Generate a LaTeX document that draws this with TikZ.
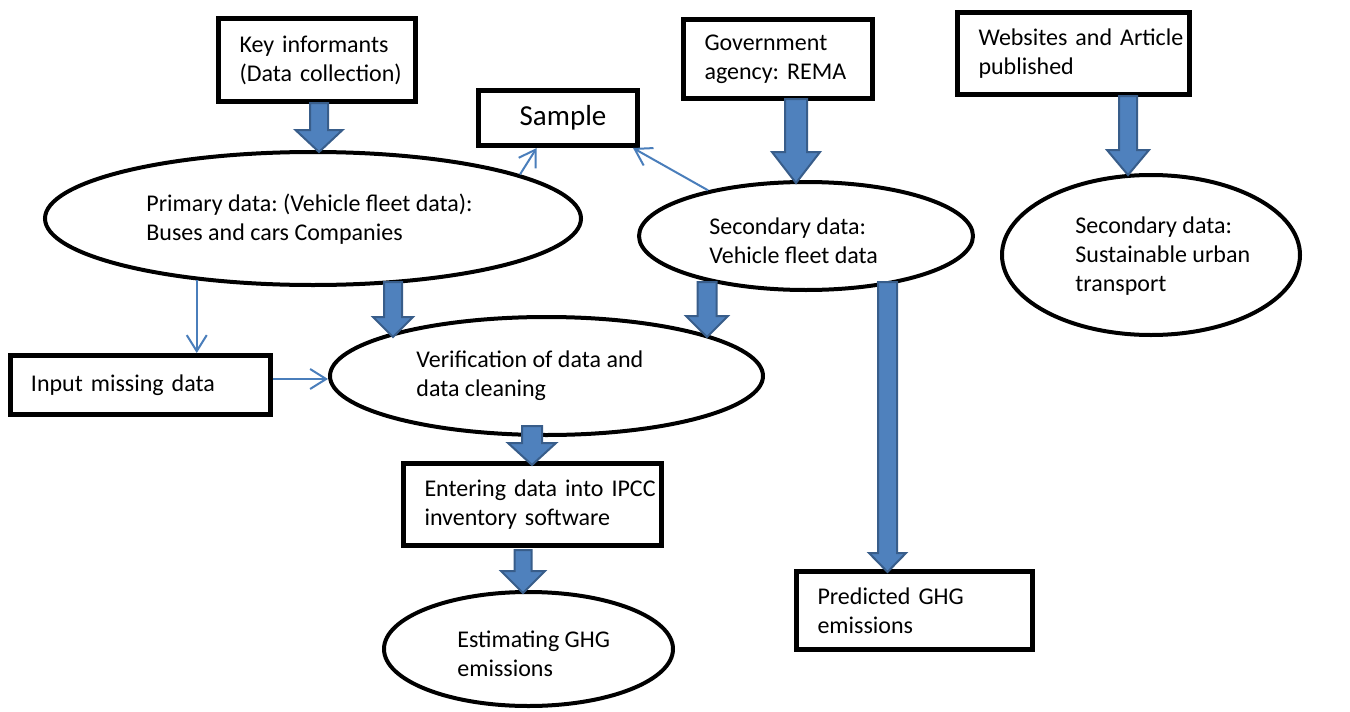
\documentclass[tikz,border=0pt]{standalone}
\usepackage{fontspec}
\setmainfont{Carlito}
\usetikzlibrary{shapes.geometric,arrows.meta,calc}
\definecolor{ablue}{HTML}{4A7EBB}
\definecolor{bfill}{HTML}{4F81BD}
\definecolor{bdraw}{HTML}{385D8A}
\newcommand\blockarrow[5]{\path[barr] let \p1=(#1), \p2=(#2) in
  (\x1-#3,\y1) -- (\x1+#3,\y1) -- (\x1+#3,\y2+#5) -- (\x1+#4,\y2+#5) -- (\x1,\y2)
  -- (\x1-#4,\y2+#5) -- (\x1-#3,\y2+#5) -- cycle;}
\frenchspacing
\begin{document}
\begin{tikzpicture}[x=0.5pt,y=-0.5pt,
  box/.style={draw, line width=2.5pt, inner xsep=10.5pt, inner ysep=2pt, align=left,
    font=\fontsize{12pt}{14.5pt}\selectfont\frenchspacing,
    execute at begin node={\hyphenpenalty=10000 \exhyphenpenalty=10000 \hbadness=10000 \hfuzz=50pt}},
  ell/.style={draw, ellipse, line width=2pt, inner sep=0pt},
  etext/.style={anchor=west, inner sep=0pt, align=left, font=\fontsize{12pt}{14.5pt}\selectfont\frenchspacing},
  thinarrow/.style={draw=ablue, line width=1pt, -{Straight Barb[length=8pt,width=10pt]}},
  barr/.style={fill=bfill, draw=bdraw, line width=1pt, line join=miter}]
\useasboundingbox (0,0) rectangle (1350,712);
\fill[white] (0,0) rectangle (1350,712);

% boxes
\node[box, minimum width=98.5pt, minimum height=41.75pt, text width=77.5pt] (key) at (317,60) {\mbox{Key informants}\\\mbox{(Data collection)}};
\node[box, minimum width=94.5pt, minimum height=39.5pt, text width=73.5pt] (gov) at (778,59) {\mbox{Government}\\\mbox{agency: REMA}};
\node[box, minimum width=116pt, minimum height=41pt, text width=95pt] (web) at (1073.5,53.5) {\mbox{Websites and Article}\\\mbox{published}};
\node[draw, line width=2.5pt, minimum width=79.5pt, minimum height=27.5pt, inner sep=0pt, font=\fontsize{14.5pt}{17pt}\selectfont] (sample) at (558,118) {\hspace*{5pt}Sample};
\node[box, minimum width=130pt, minimum height=29.5pt, text width=109pt] (input) at (140,385) {\mbox{Input missing data}};
\node[box, minimum width=129pt, minimum height=41pt, text width=108pt] (enter) at (532.5,504.5) {\mbox{Entering data into IPCC}\\\mbox{inventory software}};
\node[box, minimum width=118pt, minimum height=39pt, text width=97pt] (pred) at (914.5,610.5) {\mbox{Predicted GHG}\\\mbox{emissions}};

% ellipses
\node[ell, minimum width=268pt, minimum height=66.5pt] (prim) at (313,218.5) {};
\node[etext] (primt) at (146,219) {Primary data: (Vehicle fleet data):\\Buses and cars Companies};
\node[ell, minimum width=167pt, minimum height=54pt] (sec) at (806,236) {};
\node[etext] (sect) at (709,241) {Secondary data:\\Vehicle fleet data};
\node[ell, minimum width=149pt, minimum height=80pt] (sust) at (1151,255) {};
\node[etext] (sustt) at (1075,256) {Secondary data:\\Sustainable urban\\transport};
\node[ell, minimum width=216.5pt, minimum height=59pt] (verif) at (546.5,376) {};
\node[etext] (veritt) at (416,376) {Verification of data and\\data cleaning};
\node[ell, minimum width=144.5pt, minimum height=57pt] (est) at (528.5,649) {};
\node[etext] (estt) at (457,653.5) {Estimating GHG\\emissions};

% thin arrows
\draw[thinarrow] (prim.208) -- (prim.208 |- input.north);
\draw[thinarrow] ([yshift=3pt]input.east) -- ([yshift=3pt]input.east -| verif.west);
\draw[thinarrow] (prim.12) -- ($(sample.south west)!0.37!(sample.south east)$);
\draw[thinarrow] (sec.155) -- ([xshift=-3.5pt]sample.south east);

% block arrows
\coordinate (a1s) at (319,103);  \coordinate (a1e) at (319,152);
\coordinate (a2s) at (796,99);   \coordinate (a2e) at (796,183);
\coordinate (a3s) at (1128,96);  \coordinate (a3e) at (1128,175);
\coordinate (a4s) at (393,282);  \coordinate (a4e) at (393,337);
\coordinate (a5s) at (707,282);  \coordinate (a5e) at (707,337);
\coordinate (a6s) at (532,426);  \coordinate (a6e) at (532,465);
\coordinate (a7s) at (523,550);  \coordinate (a7e) at (523,593);
\coordinate (a8s) at (887.5,282); \coordinate (a8e) at (887.5,572);
\blockarrow{a1s}{a1e}{4.5pt}{11.75pt}{11pt}
\blockarrow{a2s}{a2e}{5.5pt}{12pt}{15.5pt}
\blockarrow{a3s}{a3e}{4.5pt}{10.5pt}{12.5pt}
\blockarrow{a4s}{a4e}{4.5pt}{10pt}{10pt}
\blockarrow{a5s}{a5e}{4.75pt}{10.5pt}{10.5pt}
\blockarrow{a6s}{a6e}{5pt}{12pt}{11pt}
\blockarrow{a7s}{a7e}{4.25pt}{11pt}{11pt}
\blockarrow{a8s}{a8e}{4.75pt}{9.25pt}{9.5pt}
\end{tikzpicture}
\end{document}
